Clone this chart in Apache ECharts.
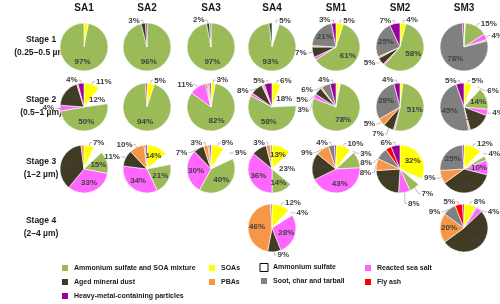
<!DOCTYPE html>
<html><head><meta charset="utf-8">
<script src="https://cdn.jsdelivr.net/npm/echarts@6/dist/echarts.min.js"></script>
<style>html,body{margin:0;padding:0;background:#fff}#c{width:500px;height:304px}</style>
</head><body><div id="c"></div>
<script>
// categories in clockwise drawing order
const categories = ['SOAs','Ammonium sulfate','Ammonium sulfate and SOA mixture','Reacted sea salt','Aged mineral dust','PBAs','Soot, char and tarball','Fly ash','Heavy-metal-containing particles'];
const sites = ['SA1','SA2','SA3','SA4','SM1','SM2','SM3'];
const stageTitles = ['Stage 1','Stage 2','Stage 3','Stage 4'];
const stageRanges = ['(0.25\u20130.5 \u00b5m)','(0.5\u20131 \u00b5m)','(1\u20132 \u00b5m)','(2\u20134 \u00b5m)'];

// percentages per site, in category order above
const stage1 = {
  SA1: [3,0,97,0,0,0,0,0,0],
  SA2: [0,0,96,0,3,0,0,0,1],
  SA3: [0,0,97,0,2,0,1,0,0],
  SA4: [0,5,93,0,2,0,0,0,0],
  SM1: [5,0,61,2,7,1,21,0,3],
  SM2: [4,0,58,1,5,1,25,0,7],
  SM3: [1,0,15,4,0,1,78,0,1]
};
const stage2 = {
  SA1: [11,12,50,4,19,1,0,0,4],
  SA2: [5,0,94,0,0,0,0,0,1],
  SA3: [3,0,82,11,1,1,1,0,1],
  SA4: [6,18,58,2,8,1,1,0,5],
  SM1: [2,1,78,3,5,1,6,0,4],
  SM2: [2,0,51,1,7,5,29,0,4],
  SM3: [5,6,14,4,14,1,45,0,5]
};
const stage3 = {
  SA1: [7,6,15,33,37,2,0,0,0],
  SA2: [14,8,21,34,11,10,1,0,1],
  SA3: [9,9,40,30,7,3,1,0,1],
  SA4: [13,23,14,36,10,3,1,0,0],
  SM1: [10,3,11,43,18,9,4,0,1],
  SM2: [32,4,7,8,23,8,8,4,6],
  SM3: [12,4,3,10,36,9,25,0,1]
};
const stage4 = {
  SA4: [12,4,0,28,9,46,1,0,0],
  SM3: [8,0,1,4,52,20,9,5,1]
};
const stages = [stage1, stage2, stage3, stage4];
// slices whose percentage is not printed: [stage, site, category index]
const hiddenLabels = [[1,'SA1',0],[1,'SA4',4],[1,'SM1',3],[2,'SA4',3],[2,'SM1',0],[2,'SM2',0],[3,'SA1',5],[3,'SM3',2]];
// label placement exceptions
const insideLabels = [[2,'SA1',1],[3,'SM3',3]];
const outsideLabels = [[1,'SM3',2]];

const colors = ['#FFFF00','#FFFFFF','#9BBB59','#FF66FF','#403B22','#F79646','#808080','#FF0000','#990099'];
const colX = [84,147,211,272,336,400,464];
const rowY = [47,107,169,228];
const R = 24;

const inList = (list, s, site, i) => list.some(h => h[0] === s + 1 && h[1] === site && h[2] === i);

const series = [];
stages.forEach((st, s) => {
  sites.forEach((site, c) => {
    const vals = st[site];
    if (!vals) return;
    const data = [];
    vals.forEach((v, i) => {
      if (v <= 0) return;
      const show = v >= 2 && !inList(hiddenLabels, s, site, i);
      let inside = v >= 13;
      if (inList(insideLabels, s, site, i)) inside = true;
      if (inList(outsideLabels, s, site, i)) inside = false;
      data.push({
        name: categories[i], value: v,
        itemStyle: { color: colors[i] },
        label: { show: show, position: inside ? 'inside' : 'outside' },
        labelLine: { show: show && !inside }
      });
    });
    series.push({
      type: 'pie', center: [colX[c], rowY[s]], radius: R,
      startAngle: 90, clockwise: true, avoidLabelOverlap: true,
      silent: true, animation: false,
      itemStyle: { borderColor: '#ffffff', borderWidth: 0.6 },
      label: { fontSize: 8, fontWeight: 'bold', color: '#404040', fontFamily: 'Liberation Sans', formatter: '{c}%', overflow: 'none', edgeDistance: 0, distanceToLabelLine: 1 },
      labelLine: { length: 3, length2: 2, lineStyle: { color: '#909090', width: 0.6 } },
      data: data
    });
  });
});

const legendGroups = [
  { left: 60, items: [2,4,8] },
  { left: 207, items: [0,5] },
  { left: 259, items: [1,6] },
  { left: 363, items: [3,7] }
];
const legend = legendGroups.map(g => ({
  orient: 'vertical', left: g.left, top: 263, padding: 0,
  itemWidth: 8, itemHeight: 8, itemGap: 4, selectedMode: false,
  icon: 'rect',
  textStyle: { fontSize: 7, fontWeight: 'bold', color: '#1a1a1a', fontFamily: 'Liberation Sans', lineHeight: 9 },
  data: g.items.map(i => i === 1
    ? { name: categories[i], itemStyle: { color: '#fff', borderColor: '#000', borderWidth: 1 } }
    : { name: categories[i] })
}));

const graphic = [];
sites.forEach((site, c) => {
  graphic.push({ type: 'text', x: colX[c], y: 8, style: { text: site, fontSize: 10, fontWeight: 'bold', fill: '#1a1a1a', fontFamily: 'Liberation Sans', align: 'center', verticalAlign: 'middle' } });
});
stageTitles.forEach((t, s) => {
  graphic.push({ type: 'text', x: 41, y: rowY[s] - 7, style: { text: t, fontSize: 8.5, fontWeight: 'bold', fill: '#1a1a1a', fontFamily: 'Liberation Sans', align: 'center', verticalAlign: 'middle' } });
  graphic.push({ type: 'text', x: 41, y: rowY[s] + 6, style: { text: stageRanges[s], fontSize: 8.5, fontWeight: 'bold', fill: '#1a1a1a', fontFamily: 'Liberation Sans', align: 'center', verticalAlign: 'middle' } });
});

const chart = echarts.init(document.getElementById('c'), null, { renderer: 'canvas' });
chart.setOption({ animation: false, legend: legend, series: series, graphic: graphic });
</script></body></html>
